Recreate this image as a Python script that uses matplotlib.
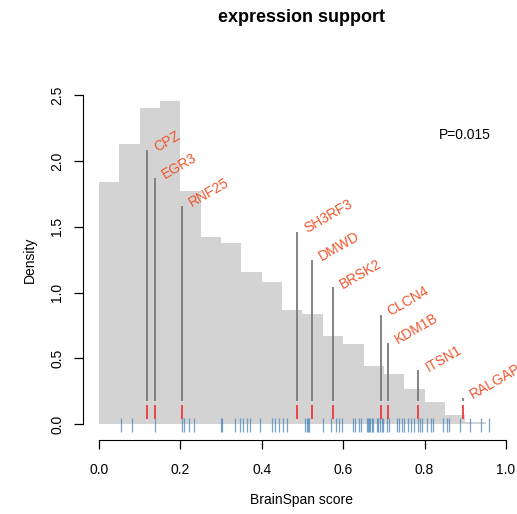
"""BrainSpan score histogram with marked genes."""

import numpy as np
import matplotlib
matplotlib.use("Agg")
import matplotlib.pyplot as plt

plt.rcParams["font.family"] = ["Liberation Sans", "DejaVu Sans"]

# histogram of all genes (density per 0.05 bin)
bin_edges = np.linspace(0, 0.95, 20)
density = [1.84, 2.13, 2.40, 2.455, 1.77, 1.42, 1.38, 1.16, 1.08, 0.87,
           0.84, 0.67, 0.61, 0.44, 0.38, 0.27, 0.17, 0.07, 0.015]

# gene set scores (rug)
rug_scores = [0.055, 0.080, 0.137, 0.204, 0.210, 0.222, 0.234, 0.300, 0.303,
              0.333, 0.346, 0.354, 0.364, 0.370, 0.396, 0.425, 0.432, 0.443,
              0.452, 0.462, 0.506, 0.510, 0.514, 0.517, 0.551, 0.569, 0.582,
              0.590, 0.596, 0.623, 0.629, 0.640, 0.643, 0.658, 0.660, 0.663,
              0.666, 0.670, 0.672, 0.682, 0.686, 0.690, 0.695, 0.699, 0.707,
              0.713, 0.731, 0.736, 0.744, 0.749, 0.760, 0.766, 0.774, 0.783,
              0.789, 0.793, 0.805, 0.815, 0.820, 0.846, 0.856, 0.860, 0.888,
              0.912, 0.938, 0.959]

# highlighted genes
genes = ["CPZ", "EGR3", "RNF25", "SH3RF3", "DMWD", "BRSK2", "CLCN4",
         "KDM1B", "ITSN1", "RALGAPB"]
gene_scores = [0.118, 0.138, 0.204, 0.487, 0.524, 0.574, 0.692, 0.711,
               0.785, 0.895]
gene_heights = [2.08, 1.87, 1.66, 1.46, 1.25, 1.04, 0.83, 0.62, 0.41, 0.20]

p_text = "P=0.015"

W, H = 517, 514
fig = plt.figure(figsize=(W / 100, H / 100), dpi=100)
ax = fig.add_axes([83 / W, (H - 440) / H, (W - 83) / W, (440 - 60) / H])

ax.stairs(density, bin_edges, fill=True, color="#D3D3D3", lw=0)

ax.vlines(rug_scores, -0.06, 0.05, color="#4A86BC", lw=0.9, alpha=0.75)
ax.vlines(gene_scores, 0.18, gene_heights, color="#7A7A7A", lw=1.3)
ax.vlines(gene_scores, 0.04, 0.145, color="#EE3B3B", lw=1.3)

for g, x, h in zip(genes, gene_scores, gene_heights):
    ax.text(x + 0.024, h - 0.01, g, rotation=30, rotation_mode="anchor",
            ha="left", va="baseline", color="#F2552C", fontsize=10,
            clip_on=False)

ax.text(0.9, 2.2, p_text, ha="center", va="center", fontsize=10)

ax.set_xlim(-0.0393, (W - 99) / 407)
ax.set_ylim((424.3 - 440) / 131.7, (424.3 - 60) / 131.7)

for side in ("top", "right"):
    ax.spines[side].set_visible(False)
ax.spines["left"].set_bounds(0, 2.5)
ax.spines["bottom"].set_bounds(0, 1)
ax.set_xticks([0, 0.2, 0.4, 0.6, 0.8, 1.0])
ax.set_xticklabels(["0.0", "0.2", "0.4", "0.6", "0.8", "1.0"])
ax.set_yticks([0, 0.5, 1.0, 1.5, 2.0, 2.5])
ax.set_yticklabels(["0.0", "0.5", "1.0", "1.5", "2.0", "2.5"],
                   rotation=90, va="center")
ax.tick_params(direction="out", length=6.5, width=0.9, labelsize=10, pad=7)
ax.tick_params(axis="x", pad=10)
ax.set_facecolor("none")

fig.text(302 / W, 1 - 500 / H, "BrainSpan score", ha="center",
         va="center", fontsize=10)
fig.text(30 / W, 1 - 260 / H, "Density", ha="center", va="center",
         rotation=90, fontsize=10)
fig.text(302 / W, 1 - 18 / H, "expression support", ha="center",
         va="center", fontsize=13, fontweight="bold")

fig.savefig("out.png", dpi=100)
